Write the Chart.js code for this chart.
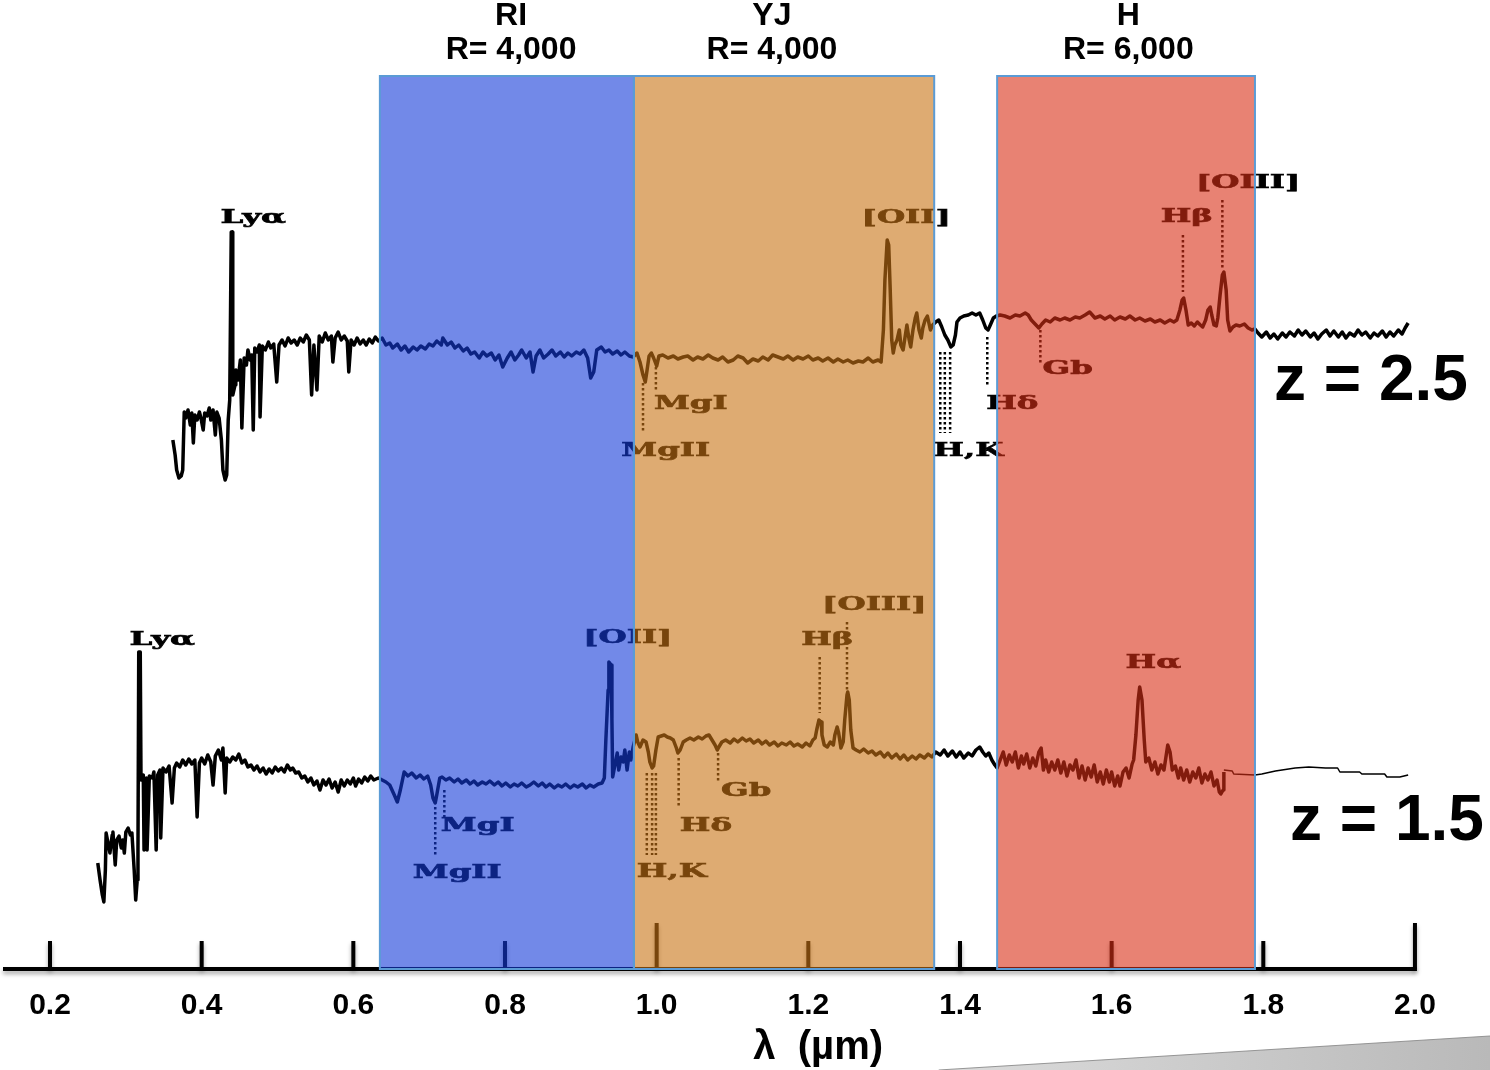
<!DOCTYPE html>
<html>
<head>
<meta charset="utf-8">
<script src="https://cdn.jsdelivr.net/npm/chart.js@4.4.1/dist/chart.umd.min.js"></script>
<style>
html,body{margin:0;padding:0;background:#fff;}
#wrap{width:1490px;height:1070px;position:relative;}
</style>
</head>
<body>
<div id="wrap"><canvas id="c" width="1490" height="1070"></canvas></div>
<script>
// ---------- axis ----------
const tickLabels = ['0.2','0.4','0.6','0.8','1.0','1.2','1.4','1.6','1.8','2.0'];
const axisTitle = 'λ  (µm)';

// ---------- instrument bands (µm) ----------
const bandNames = ['RI','YJ','H'];
const bandRes = ['R= 4,000','R= 4,000','R= 6,000'];
const bandLo = [0.635, 0.970, 1.449];
const bandHi = [0.970, 1.366, 1.789];
const bandLabelLam = [0.808, 1.152, 1.622];

// ---------- spectrum z = 2.5 : [wavelength µm, flux] ----------
const topSpectrum = [
[0.362,52.9],[0.365,51.4],[0.367,49.9],[0.370,49.1],[0.373,49.3],[0.375,49.9],[0.377,55.7],[0.379,55.1],[0.382,55.9],[0.385,54.4],
[0.387,55.6],[0.389,52.6],[0.391,55.4],[0.394,54.9],[0.397,55.7],[0.399,55.1],[0.402,53.9],[0.404,55.6],[0.407,55.3],[0.410,56.1],
[0.412,54.9],[0.415,55.9],[0.418,53.4],[0.420,55.7],[0.423,55.1],[0.426,52.9],[0.428,49.9],[0.431,48.9],[0.433,49.4],[0.435,54.9],
[0.437,56.9],[0.439,73.7],[0.440,73.7],[0.441,57.4],[0.444,58.4],[0.445,59.9],[0.448,58.9],[0.451,60.9],[0.453,54.1],[0.456,61.1],
[0.459,60.4],[0.461,61.9],[0.464,60.9],[0.466,61.4],[0.468,53.9],[0.470,62.1],[0.473,61.7],[0.476,62.4],[0.477,55.2],[0.480,62.3],
[0.484,61.9],[0.488,62.7],[0.491,62.1],[0.495,62.5],[0.499,58.7],[0.502,62.4],[0.506,62.9],[0.510,62.3],[0.514,63.1],[0.518,62.6],
[0.522,62.9],[0.526,62.4],[0.530,63.1],[0.534,62.7],[0.538,63.4],[0.542,62.9],[0.545,57.4],[0.548,62.4],[0.552,57.9],[0.555,63.3],
[0.559,62.7],[0.563,63.6],[0.567,62.9],[0.571,63.3],[0.573,60.7],[0.576,63.1],[0.580,63.7],[0.584,62.9],[0.588,63.3],[0.592,62.8],
[0.594,59.7],[0.597,62.9],[0.601,62.4],[0.605,63.1],[0.609,62.5],[0.613,62.9],[0.617,62.4],[0.621,63.0],[0.625,62.6],[0.629,63.2],
[0.633,62.8],[0.638,63.1],[0.643,62.4],[0.648,62.6],[0.652,62.1],[0.658,62.5],[0.663,61.9],[0.668,62.3],[0.673,61.7],[0.679,62.2],
[0.684,61.9],[0.689,62.3],[0.695,62.0],[0.700,62.5],[0.705,62.3],[0.710,62.8],[0.716,62.4],[0.718,63.1],[0.724,62.4],[0.729,62.7],
[0.734,62.1],[0.739,62.4],[0.745,61.8],[0.750,62.1],[0.755,61.5],[0.760,61.7],[0.766,61.1],[0.771,61.7],[0.776,61.3],[0.782,61.6],
[0.787,60.9],[0.792,61.4],[0.797,60.2],[0.803,61.1],[0.808,61.7],[0.813,60.9],[0.818,61.4],[0.822,61.9],[0.828,61.1],[0.833,61.7],
[0.837,59.7],[0.841,61.3],[0.846,61.9],[0.851,61.1],[0.857,61.5],[0.862,61.9],[0.867,61.3],[0.873,61.7],[0.878,61.2],[0.883,61.6],
[0.888,61.3],[0.894,61.7],[0.899,61.5],[0.904,61.9],[0.909,61.1],[0.913,59.1],[0.917,59.7],[0.921,61.9],[0.927,62.2],[0.932,61.7],
[0.937,61.9],[0.942,61.5],[0.948,61.8],[0.953,61.4],[0.958,61.7],[0.964,61.3],[0.969,61.2],[0.974,61.6],[0.978,60.7],[0.982,59.4],
[0.985,58.7],[0.987,59.7],[0.990,61.3],[0.993,61.6],[0.996,61.1],[1.000,60.3],[1.003,61.3],[1.008,61.4],[1.015,61.1],[1.022,61.3],
[1.028,61.0],[1.035,61.2],[1.041,61.3],[1.048,60.9],[1.054,61.2],[1.061,61.0],[1.068,61.4],[1.074,61.1],[1.081,60.9],[1.087,61.2],
[1.094,60.7],[1.101,60.9],[1.107,61.3],[1.114,61.1],[1.120,60.6],[1.127,61.0],[1.134,60.8],[1.140,61.2],[1.147,60.9],[1.153,61.4],
[1.160,61.2],[1.167,61.0],[1.173,61.3],[1.180,60.9],[1.186,61.2],[1.193,61.0],[1.200,61.3],[1.206,60.9],[1.213,61.1],[1.219,60.8],
[1.226,61.1],[1.233,60.7],[1.239,61.0],[1.246,60.7],[1.252,60.9],[1.259,60.6],[1.266,60.8],[1.272,60.7],[1.279,61.1],[1.285,60.7],
[1.292,60.9],[1.296,60.7],[1.299,63.9],[1.301,68.9],[1.304,72.9],[1.306,72.4],[1.308,67.9],[1.310,62.9],[1.312,61.6],[1.314,62.4],
[1.317,62.9],[1.320,63.9],[1.322,62.4],[1.325,61.9],[1.328,63.4],[1.330,64.4],[1.333,62.9],[1.335,62.2],[1.338,63.9],[1.341,65.1],
[1.343,65.6],[1.346,63.9],[1.349,63.1],[1.351,64.1],[1.354,64.9],[1.357,65.3],[1.361,63.9],[1.364,64.4],[1.368,64.7],[1.372,64.9],
[1.376,64.2],[1.380,63.4],[1.384,62.9],[1.388,62.2],[1.391,62.4],[1.394,63.4],[1.396,64.7],[1.400,65.1],[1.405,65.3],[1.411,65.4],
[1.416,65.6],[1.421,65.4],[1.426,65.6],[1.430,64.9],[1.434,64.1],[1.437,63.9],[1.440,64.4],[1.444,65.1],[1.448,65.3],[1.453,65.4],
[1.459,65.3],[1.466,65.1],[1.473,65.4],[1.479,65.3],[1.486,65.6],[1.490,65.4],[1.494,64.9],[1.499,64.5],[1.504,64.1],[1.508,64.5],
[1.513,64.9],[1.519,64.7],[1.525,65.1],[1.532,64.9],[1.538,65.1],[1.545,64.9],[1.552,65.2],[1.558,65.1],[1.565,65.4],[1.571,65.7],
[1.578,65.1],[1.585,65.3],[1.591,65.0],[1.598,65.3],[1.604,64.9],[1.611,65.2],[1.618,65.0],[1.624,65.3],[1.631,64.9],[1.637,65.1],
[1.644,64.8],[1.651,65.0],[1.657,64.7],[1.664,64.9],[1.670,64.6],[1.677,64.9],[1.682,64.7],[1.686,64.9],[1.690,65.9],[1.693,66.9],
[1.695,67.1],[1.698,65.9],[1.701,64.4],[1.705,64.6],[1.709,64.3],[1.713,64.7],[1.717,64.4],[1.720,64.2],[1.724,64.9],[1.727,65.9],
[1.730,66.2],[1.732,65.4],[1.735,64.4],[1.738,64.3],[1.740,65.1],[1.743,67.4],[1.746,69.4],[1.748,69.7],[1.751,67.9],[1.753,64.9],
[1.756,63.8],[1.760,64.2],[1.764,64.4],[1.769,64.3],[1.775,64.5],[1.780,64.1],[1.785,63.9],[1.789,64.0],[1.793,63.6],[1.798,63.2],
[1.804,63.7],[1.809,63.1],[1.814,63.5],[1.819,63.0],[1.825,63.6],[1.830,63.2],[1.835,63.7],[1.841,63.3],[1.846,63.9],[1.851,63.4],
[1.856,63.8],[1.862,63.2],[1.867,63.6],[1.872,63.0],[1.877,63.5],[1.883,63.9],[1.888,63.3],[1.893,63.8],[1.899,63.2],[1.904,63.7],
[1.909,63.1],[1.914,63.6],[1.920,63.3],[1.925,63.9],[1.930,63.4],[1.935,63.7],[1.941,63.1],[1.946,63.6],[1.951,63.3],[1.957,63.8],
[1.962,63.2],[1.967,63.7],[1.972,63.3],[1.978,63.9],[1.983,63.5],[1.987,64.1],[1.991,64.6]
];

// ---------- spectrum z = 1.5 : [wavelength µm, flux] ----------
const bottomSpectrum = [
[0.263,10.6],[0.266,8.9],[0.269,7.4],[0.271,6.7],[0.273,9.9],[0.274,13.6],[0.277,12.4],[0.279,11.6],[0.282,13.4],[0.283,13.7],
[0.286,10.4],[0.288,12.9],[0.291,13.3],[0.294,12.1],[0.296,12.9],[0.298,11.6],[0.300,13.7],[0.303,14.1],[0.306,13.4],[0.308,13.6],
[0.311,9.9],[0.313,6.9],[0.315,8.9],[0.316,11.9],[0.317,31.7],[0.319,31.7],[0.320,18.9],[0.323,19.4],[0.324,11.9],[0.327,19.1],
[0.328,11.9],[0.331,19.3],[0.335,19.1],[0.337,19.7],[0.340,11.9],[0.342,19.4],[0.345,19.9],[0.346,13.1],[0.349,20.1],[0.353,19.7],
[0.357,20.3],[0.361,16.6],[0.364,20.1],[0.367,20.6],[0.371,20.2],[0.375,20.9],[0.379,20.4],[0.383,21.0],[0.387,20.5],[0.391,20.9],
[0.394,15.2],[0.397,20.6],[0.400,21.1],[0.404,20.5],[0.408,21.4],[0.412,20.7],[0.415,18.4],[0.418,21.3],[0.422,21.9],[0.426,20.9],
[0.428,22.1],[0.431,17.6],[0.433,21.1],[0.437,20.7],[0.441,21.2],[0.445,20.9],[0.449,21.5],[0.453,20.6],[0.457,20.9],[0.461,20.2],
[0.465,20.4],[0.469,19.9],[0.473,20.3],[0.477,19.7],[0.481,20.1],[0.485,19.5],[0.489,20.0],[0.493,19.6],[0.497,20.2],[0.501,19.8],
[0.505,20.1],[0.509,19.7],[0.513,20.4],[0.517,19.9],[0.520,20.1],[0.524,19.6],[0.528,19.7],[0.532,19.1],[0.536,19.3],[0.540,18.7],
[0.544,19.1],[0.548,18.4],[0.552,18.8],[0.556,17.9],[0.560,18.9],[0.564,18.4],[0.568,19.0],[0.572,18.1],[0.576,18.7],[0.580,17.7],
[0.584,18.9],[0.588,18.3],[0.592,18.9],[0.596,18.5],[0.600,19.1],[0.603,18.3],[0.607,19.0],[0.611,18.6],[0.615,19.2],[0.619,18.8],
[0.623,19.3],[0.627,18.9],[0.633,19.1],[0.638,18.9],[0.643,18.7],[0.648,18.4],[0.654,17.4],[0.658,16.7],[0.662,17.9],[0.667,19.7],
[0.672,19.3],[0.677,19.6],[0.683,19.1],[0.688,19.4],[0.693,19.0],[0.698,19.3],[0.702,18.4],[0.705,17.1],[0.708,16.6],[0.710,17.4],
[0.714,19.1],[0.717,19.2],[0.722,18.9],[0.727,19.1],[0.733,18.7],[0.738,19.0],[0.743,18.6],[0.749,18.9],[0.754,18.5],[0.759,18.8],
[0.764,18.4],[0.770,18.7],[0.775,18.5],[0.780,18.8],[0.786,18.4],[0.791,18.7],[0.796,18.3],[0.801,18.6],[0.807,18.2],[0.812,18.5],
[0.817,18.3],[0.822,18.6],[0.828,18.2],[0.833,18.4],[0.838,18.7],[0.844,18.3],[0.849,18.6],[0.854,18.2],[0.859,18.5],[0.865,18.1],
[0.870,18.4],[0.875,18.2],[0.880,18.5],[0.886,18.1],[0.891,18.4],[0.896,18.2],[0.902,18.5],[0.907,18.1],[0.912,18.4],[0.917,18.2],
[0.923,18.5],[0.928,18.6],[0.931,19.1],[0.933,22.9],[0.936,27.9],[0.937,30.7],[0.940,30.4],[0.941,24.9],[0.942,19.2],[0.945,20.4],
[0.948,21.6],[0.950,19.9],[0.953,21.2],[0.956,20.7],[0.958,21.9],[0.961,19.9],[0.964,21.7],[0.966,20.9],[0.969,22.2],[0.973,23.4],
[0.975,22.7],[0.978,22.2],[0.982,22.9],[0.986,22.7],[0.989,21.7],[0.991,20.7],[0.994,20.1],[0.996,20.3],[0.999,21.9],[1.002,23.2],
[1.006,23.3],[1.010,23.4],[1.014,23.2],[1.018,23.1],[1.022,22.9],[1.026,22.1],[1.028,21.6],[1.031,21.9],[1.035,22.7],[1.039,22.9],
[1.044,23.1],[1.049,22.9],[1.055,23.2],[1.060,23.0],[1.065,23.3],[1.069,23.4],[1.073,22.9],[1.077,22.4],[1.080,21.9],[1.082,22.2],
[1.086,22.7],[1.091,22.9],[1.097,22.6],[1.102,23.0],[1.107,22.7],[1.113,23.1],[1.118,22.8],[1.123,23.0],[1.128,22.6],[1.134,22.9],
[1.139,22.5],[1.144,22.8],[1.149,22.4],[1.155,22.7],[1.160,22.3],[1.165,22.6],[1.171,22.4],[1.176,22.7],[1.181,22.3],[1.186,22.5],
[1.192,22.2],[1.197,22.6],[1.202,22.3],[1.206,22.9],[1.209,23.1],[1.211,23.9],[1.214,24.9],[1.217,24.7],[1.218,23.4],[1.221,22.4],
[1.225,22.2],[1.229,22.7],[1.233,22.4],[1.235,23.4],[1.238,24.2],[1.240,23.6],[1.243,22.1],[1.246,22.7],[1.248,24.9],[1.251,27.4],
[1.252,27.7],[1.254,26.9],[1.256,23.9],[1.259,22.1],[1.263,21.9],[1.268,21.7],[1.273,22.0],[1.279,21.6],[1.284,21.8],[1.289,21.4],
[1.295,21.7],[1.300,21.2],[1.305,21.6],[1.310,21.1],[1.316,21.5],[1.321,21.0],[1.326,21.4],[1.331,20.9],[1.337,21.3],[1.342,21.0],
[1.347,21.4],[1.353,21.1],[1.358,21.5],[1.363,21.2],[1.368,21.7],[1.374,21.4],[1.379,21.9],[1.384,21.3],[1.390,21.8],[1.395,21.2],
[1.400,21.7],[1.405,21.1],[1.411,21.6],[1.416,21.3],[1.421,21.9],[1.426,22.2],[1.430,21.7],[1.434,21.3],[1.438,21.6],[1.442,20.9],
[1.446,20.4],[1.449,20.1],[1.453,20.9],[1.457,21.7],[1.461,20.4],[1.465,21.4],[1.469,20.7],[1.473,21.7],[1.477,20.1],[1.481,21.3],
[1.484,20.5],[1.488,21.5],[1.492,20.1],[1.496,21.1],[1.500,20.3],[1.504,21.7],[1.507,22.1],[1.510,19.9],[1.513,20.9],[1.517,19.7],
[1.521,20.7],[1.525,19.9],[1.529,20.9],[1.533,19.6],[1.537,20.7],[1.541,19.3],[1.545,20.4],[1.549,19.9],[1.553,20.9],[1.557,19.1],
[1.561,20.3],[1.565,18.9],[1.569,20.1],[1.573,19.2],[1.577,20.4],[1.581,18.7],[1.585,19.7],[1.589,18.5],[1.593,19.9],[1.597,18.7],
[1.600,19.7],[1.604,18.3],[1.608,19.3],[1.611,18.3],[1.615,19.7],[1.619,20.1],[1.623,19.1],[1.627,20.5],[1.629,20.9],[1.632,23.4],
[1.635,26.9],[1.637,28.2],[1.640,26.9],[1.643,22.9],[1.645,20.7],[1.649,21.1],[1.653,19.9],[1.657,20.7],[1.661,19.5],[1.665,20.4],
[1.669,19.9],[1.672,21.4],[1.674,22.4],[1.677,21.7],[1.680,19.9],[1.684,20.3],[1.688,19.1],[1.691,20.1],[1.695,18.9],[1.699,19.9],
[1.703,18.7],[1.707,19.7],[1.711,19.1],[1.715,20.1],[1.719,18.6],[1.723,19.5],[1.727,18.9],[1.731,19.7],[1.735,18.3],[1.739,18.9],
[1.742,17.7],[1.744,17.5],[1.747,17.9],[1.748,19.7]
];
const bottomTail = [
[1.748,19.9],[1.759,19.8],[1.761,19.5],[1.789,19.4],[1.798,19.5],[1.816,19.8],[1.842,20.1],[1.860,20.2],[1.882,20.1],[1.898,20.1],
[1.901,19.7],[1.927,19.7],[1.930,19.5],[1.960,19.5],[1.963,19.2],[1.980,19.2],[1.991,19.4]
];

// ---------- line identifications ----------
const topLineNames = ['Lyα','[OII]','MgI','MgII','H,K','Hδ','Gb','Hβ','[OIII]'];
const topLineLam   = [0.468, 1.329, 1.045, 1.012, 1.411, 1.469, 1.542, 1.699, 1.780];
const topLineFlux  = [75.1, 75.1, 56.5, 51.8, 51.8, 56.5, 60.0, 75.2, 78.6];
const topMarkLam   = [0.982, 0.999, 1.374, 1.380, 1.387, 1.436, 1.506, 1.694, 1.746];
const topMarkFrom  = [58.6, 60.2, 61.7, 61.7, 61.7, 63.2, 63.9, 73.4, 76.9];
const topMarkTo    = [53.6, 57.7, 53.6, 53.6, 53.6, 58.2, 60.6, 67.7, 69.9];

const botLineNames = ['Lyα','[OII]','MgI','MgII','H,K','Hδ','Gb','Hβ','[OIII]','Hα'];
const botLineLam   = [0.348, 0.962, 0.764, 0.737, 1.020, 1.065, 1.118, 1.225, 1.287, 1.655];
const botLineFlux  = [32.9, 33.1, 14.3, 9.6, 9.7, 14.3, 17.8, 32.9, 36.4, 30.6];
const botMarkLam   = [0.708, 0.720, 0.987, 0.994, 0.999, 1.029, 1.081, 1.215, 1.251];
const botMarkFrom  = [16.2, 17.9, 19.6, 19.6, 19.6, 21.1, 21.6, 31.2, 34.7];
const botMarkTo    = [11.4, 14.9, 11.4, 11.4, 11.4, 16.1, 18.6, 25.6, 27.9];

const zLabels = ['z = 2.5','z = 1.5'];
const zLabelLam = [1.942, 1.963];
const zLabelFlux = [58.7, 14.7];

// ---------- styles ----------
const SANS = '"Liberation Sans", Arial, sans-serif';
const SERIF = '"DejaVu Serif", serif';
const bandOverlay = ['rgba(20,58,217,0.6)','rgba(200,115,20,0.6)','rgba(217,47,22,0.6)'];
const bandBorder = '#5B9BD5';

const tickValues = tickLabels.map(Number);
const toXY = arr => arr.map(p => ({x: p[0], y: p[1]}));

const annotate = {
  id: 'annotate',
  beforeDraw(chart) {
    const ctx = chart.ctx;
    ctx.save();
    ctx.fillStyle = '#fff';
    ctx.fillRect(0, 0, chart.width, chart.height);
    ctx.restore();
  },
  afterDraw(chart) {
    const ctx = chart.ctx;
    const xs = chart.scales.x, ys = chart.scales.y;
    const X = v => xs.getPixelForValue(v);
    const Y = v => ys.getPixelForValue(v);
    const area = chart.chartArea;

    // axis line + tick marks (upward)
    ctx.save();
    ctx.strokeStyle = '#000';
    ctx.shadowColor = 'rgba(0,0,0,0.35)';
    ctx.shadowBlur = 4;
    ctx.shadowOffsetY = 3;
    ctx.lineWidth = 4;
    ctx.beginPath();
    ctx.moveTo(area.left, Y(0));
    ctx.lineTo(X(tickValues[tickValues.length - 1]) + 2, Y(0));
    ctx.stroke();
    tickValues.forEach(v => {
      const len = (v === 1.0 || v === 2.0) ? 46 : 28;
      ctx.beginPath();
      ctx.moveTo(X(v), Y(0));
      ctx.lineTo(X(v), Y(0) - len);
      ctx.stroke();
    });
    ctx.restore();

    // dotted marker lines
    ctx.save();
    ctx.strokeStyle = '#000';
    ctx.lineWidth = 2.5;
    ctx.setLineDash([2.5, 2.5]);
    const marks = (lam, a, b) => lam.forEach((l, i) => {
      ctx.beginPath();
      ctx.moveTo(X(l), Y(a[i]));
      ctx.lineTo(X(l), Y(b[i]));
      ctx.stroke();
    });
    marks(topMarkLam, topMarkFrom, topMarkTo);
    marks(botMarkLam, botMarkFrom, botMarkTo);
    ctx.restore();

    // line identification labels (wide bold serif)
    ctx.save();
    ctx.fillStyle = '#000';
    ctx.strokeStyle = '#000';
    ctx.lineWidth = 0.6;
    ctx.font = 'bold 18px ' + SERIF;
    ctx.textAlign = 'center';
    ctx.textBaseline = 'middle';
    const labels = (names, lam, flux) => names.forEach((n, i) => {
      ctx.save();
      ctx.translate(X(lam[i]), Y(flux[i]));
      ctx.scale(1.8, 1);
      ctx.fillText(n, 0, 0);
      ctx.strokeText(n, 0, 0);
      ctx.restore();
    });
    labels(topLineNames, topLineLam, topLineFlux);
    labels(botLineNames, botLineLam, botLineFlux);
    ctx.restore();

    // translucent instrument bands over everything
    ctx.save();
    bandLo.forEach((lo, i) => {
      const x0 = X(lo), x1 = X(bandHi[i]);
      ctx.fillStyle = bandOverlay[i];
      ctx.fillRect(x0, area.top, x1 - x0, Y(0) - area.top);
    });
    ctx.strokeStyle = bandBorder;
    ctx.lineWidth = 2;
    bandLo.forEach((lo, i) => {
      const x0 = X(lo), x1 = X(bandHi[i]);
      ctx.strokeRect(x0, area.top, x1 - x0, Y(0) - area.top);
    });
    ctx.restore();

    // band headers
    ctx.save();
    ctx.fillStyle = '#000';
    ctx.font = 'bold 32px ' + SANS;
    ctx.textAlign = 'center';
    ctx.textBaseline = 'middle';
    bandNames.forEach((n, i) => {
      ctx.fillText(n, X(bandLabelLam[i]), area.top - 60);
      ctx.fillText(bandRes[i], X(bandLabelLam[i]), area.top - 26);
    });
    // redshift labels
    ctx.font = 'bold 64px ' + SANS;
    zLabels.forEach((t, i) => ctx.fillText(t, X(zLabelLam[i]), Y(zLabelFlux[i])));
    // axis title
    ctx.font = 'bold 40px ' + SANS;
    ctx.fillText(axisTitle, X(1.213), Y(0) + 79);
    ctx.restore();

    // page-curl shadow decoration bottom right
    ctx.save();
    const W = chart.width, H = chart.height;
    const g = ctx.createLinearGradient(W * 0.63, 0, W, 0);
    g.addColorStop(0, 'rgba(220,220,220,1)');
    g.addColorStop(1, 'rgba(185,185,185,1)');
    ctx.fillStyle = g;
    ctx.beginPath();
    ctx.moveTo(W * 0.63, H);
    ctx.lineTo(W, H - 34);
    ctx.lineTo(W, H);
    ctx.closePath();
    ctx.fill();
    ctx.strokeStyle = 'rgba(140,140,140,0.9)';
    ctx.lineWidth = 1;
    ctx.beginPath();
    ctx.moveTo(W * 0.63, H);
    ctx.lineTo(W, H - 34);
    ctx.stroke();
    ctx.restore();
  }
};

const lineDs = (data, width) => ({
  data: toXY(data),
  showLine: true,
  borderColor: '#000',
  backgroundColor: '#000',
  borderWidth: width,
  pointRadius: 0,
  tension: 0,
  borderJoinStyle: 'round',
  fill: false
});

new Chart(document.getElementById('c'), {
  type: 'scatter',
  data: {
    datasets: [
      lineDs(topSpectrum, 3.5),
      lineDs(bottomSpectrum, 3.5),
      lineDs(bottomTail, 1.5)
    ]
  },
  options: {
    responsive: false,
    animation: false,
    devicePixelRatio: 1,
    layout: { padding: { left: 3, right: 72, top: 76, bottom: 27 } },
    plugins: { legend: { display: false }, tooltip: { enabled: false } },
    scales: {
      x: {
        type: 'linear',
        min: 0.138,
        max: 2.004,
        afterBuildTicks: s => { s.ticks = tickValues.map(v => ({ value: v })); },
        grid: { display: false, drawTicks: false },
        border: { display: false },
        ticks: {
          autoSkip: false,
          maxRotation: 0,
          padding: 19,
          color: '#000',
          font: { family: SANS, size: 30, weight: 'bold' },
          callback: (v, i) => tickLabels[i]
        }
      },
      y: { display: false, min: 0, max: 89.3 }
    }
  },
  plugins: [annotate]
});
</script>
</body>
</html>
